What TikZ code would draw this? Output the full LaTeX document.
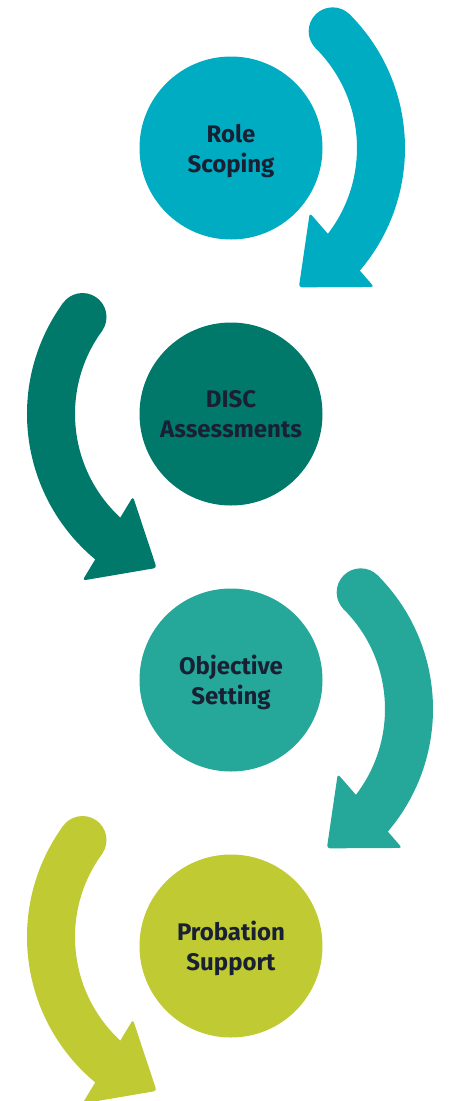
\documentclass[tikz,border=0pt]{standalone}
\usepackage{fontspec}
\setmainfont{Fira Sans}
\usetikzlibrary{calc}

\definecolor{rolecyan}{RGB}{0,172,194}
\definecolor{discteal}{RGB}{0,121,107}
\definecolor{objteal}{RGB}{37,167,154}
\definecolor{probolive}{RGB}{192,202,51}
\definecolor{labelnavy}{RGB}{26,32,52}

\tikzset{
  stepcircle/.style={circle, minimum size=183pt, inner sep=0pt, align=center,
    text depth=0pt, text=labelnavy, font=\fontsize{24}{30}\selectfont\bfseries},
  % clockwise turn, down the right side
  pics/cwturn/.style={code={
    \fill (45:165) circle (24);
    \draw[line width=48pt] (45:165) arc[start angle=45, end angle=-42, radius=165];
    \fill[shift={(-39:162)}, rotate=-139, rounded corners=3pt] (0,49) -- (57,0) -- (0,-49) -- cycle;
  }},
  % counter-clockwise turn, down the left side
  pics/ccwturn/.style={code={
    \fill (144:165) circle (24);
    \draw[line width=48pt] (144:165) arc[start angle=144, end angle=232, radius=165];
    \fill[shift={(229:165)}, rotate=329, rounded corners=3pt] (0,49) -- (57,0) -- (0,-49) -- cycle;
  }},
}

\begin{document}
\begin{tikzpicture}[x=1pt, y=1pt]
\useasboundingbox (0,0) rectangle (450,-1101);

\node[stepcircle, fill=rolecyan] (role) at (231,-148) {Role\\Scoping};
\node[stepcircle, fill=discteal] (disc) at (231,-414) {DISC\\Assessments};
\node[stepcircle, fill=objteal] (objective) at (231,-680) {Objective\\Setting};
\node[stepcircle, fill=probolive] (probation) at (231,-946) {Probation\\Support};

\pic[color=rolecyan] at ($(role)+(-15,0)$) {cwturn};
\pic[color=discteal] at ($(disc)+(-15,0)$) {ccwturn};
\pic[color=objteal] at ($(objective)+(13,-29)$) {cwturn};
\pic[color=probolive] at ($(probation)+(-15,9)$) {ccwturn};
\end{tikzpicture}
\end{document}
